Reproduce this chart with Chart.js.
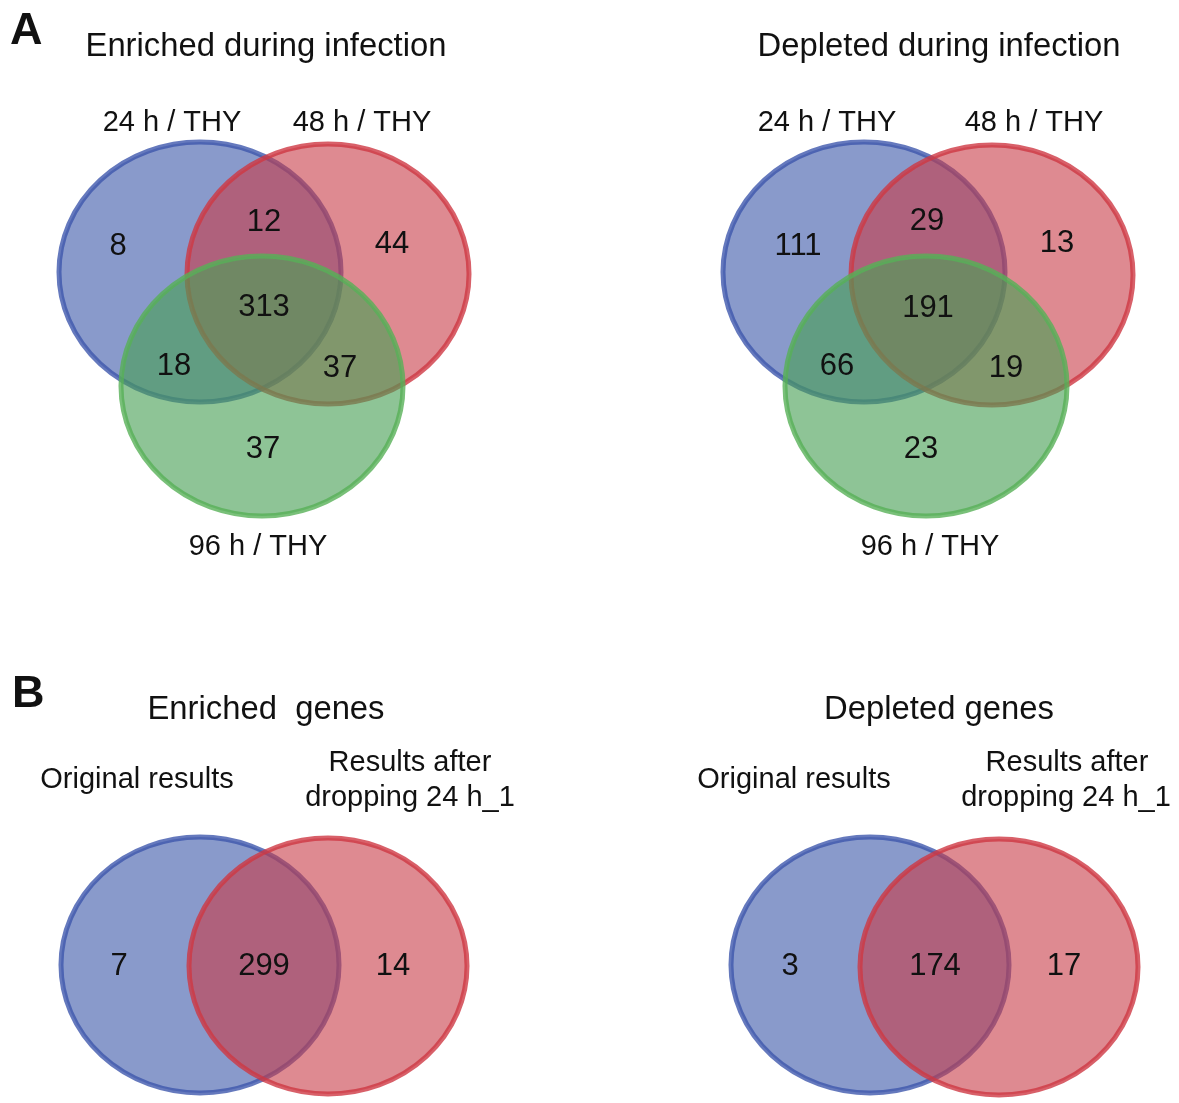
<!DOCTYPE html>
<html>
<head>
<meta charset="utf-8">
<title>Venn diagrams</title>
<script src="https://cdn.jsdelivr.net/npm/chart.js@4.4.0/dist/chart.umd.min.js"></script>
<style>
  html, body { margin: 0; padding: 0; background: #fff; }
  #wrap { width: 1179px; height: 1103px; }
</style>
</head>
<body>
<div id="wrap"><canvas id="venn" width="1179" height="1103"></canvas></div>
<script>
// --- Datos ---
const panelLetters = ['A', 'B'];
const panelTitles = ['Enriched during infection', 'Depleted during infection', 'Enriched  genes', 'Depleted genes'];
const timeSets = ['24 h / THY', '48 h / THY', '96 h / THY'];
const compareSets = ['Original results', 'Results after', 'dropping 24 h_1'];
// regiones: solo 24h, 24h∩48h, solo 48h, las tres, 24h∩96h, 48h∩96h, solo 96h
const enrichedCounts = [8, 12, 44, 313, 18, 37, 37];
const depletedCounts = [111, 29, 13, 191, 66, 19, 23];
// regiones: solo original, ambas, solo tras quitar 24 h_1
const enrichedGenes = [7, 299, 14];
const depletedGenes = [3, 174, 17];

// --- Disposición (unidades de los ejes: 0..1179 x 0..1103) ---
const W = 1179, H = 1103;
const FONT = "'Liberation Sans', Arial, Helvetica, sans-serif";

const vennPanels = [
    { counts: enrichedCounts, rx: 141, ry: 130,
      circles: [[200, 272], [328, 274], [262, 386]],
      spots: [[118, 244], [264, 220], [392, 242], [264, 305], [174, 364], [340, 366], [263, 447]] },
    { counts: depletedCounts, rx: 141, ry: 130,
      circles: [[864, 272], [992, 275], [926, 386]],
      spots: [[798, 244], [927, 219], [1057, 241], [928, 306], [837, 364], [1006, 366], [921, 447]] },
    { counts: enrichedGenes, rx: 139, ry: 128,
      circles: [[200, 965], [328, 966]],
      spots: [[119, 964], [264, 964], [393, 964]] },
    { counts: depletedGenes, rx: 139, ry: 128,
      circles: [[870, 965], [999, 967]],
      spots: [[790, 964], [935, 964], [1064, 964]] }
];

// [texto, x, línea base, tamaño, negrita, alineación]
const textItems = [
    [panelLetters[0], 10, 44, 45, true, 'left'],
    [panelLetters[1], 12, 707, 45, true, 'left'],
    [panelTitles[0], 266, 56, 32.8, false, 'center'],
    [panelTitles[1], 939, 56, 32.8, false, 'center'],
    [panelTitles[2], 266, 719, 32.8, false, 'center'],
    [panelTitles[3], 939, 719, 32.8, false, 'center'],
    [timeSets[0], 172, 131, 29, false, 'center'],
    [timeSets[1], 362, 131, 29, false, 'center'],
    [timeSets[2], 258, 555, 29, false, 'center'],
    [timeSets[0], 827, 131, 29, false, 'center'],
    [timeSets[1], 1034, 131, 29, false, 'center'],
    [timeSets[2], 930, 555, 29, false, 'center'],
    [compareSets[0], 137, 788, 29, false, 'center'],
    [compareSets[1], 410, 771, 29, false, 'center'],
    [compareSets[2], 410, 806, 29, false, 'center'],
    [compareSets[0], 794, 788, 29, false, 'center'],
    [compareSets[1], 1067, 771, 29, false, 'center'],
    [compareSets[2], 1066, 806, 29, false, 'center']
];

const setColors = [
    { fill: 'rgba(58, 86, 168, 0.6)', stroke: 'rgba(62, 88, 172, 0.8)' },
    { fill: 'rgba(200, 60, 72, 0.6)', stroke: 'rgba(206, 56, 68, 0.8)' },
    { fill: 'rgba(72, 160, 86, 0.62)', stroke: 'rgba(88, 176, 88, 0.8)' }
];

/**
 * Plugin: dibuja elipses, conteos y textos usando las escalas del gráfico
 */
const vennPlugin = {
    id: 'venn',
    beforeDatasetsDraw(chart) {
        const { ctx, scales: { x, y } } = chart;
        ctx.save();
        vennPanels.forEach(panel => {
            panel.circles.forEach(([cx, cy], i) => {
                const px = x.getPixelForValue(cx);
                const py = y.getPixelForValue(cy);
                const rx = Math.abs(x.getPixelForValue(cx + panel.rx) - px);
                const ry = Math.abs(y.getPixelForValue(cy + panel.ry) - py);
                ctx.beginPath();
                ctx.ellipse(px, py, rx, ry, 0, 0, Math.PI * 2);
                ctx.fillStyle = setColors[i].fill;
                ctx.fill();
                ctx.lineWidth = 5;
                ctx.strokeStyle = setColors[i].stroke;
                ctx.stroke();
            });
        });
        ctx.restore();
    },
    afterDatasetsDraw(chart) {
        const { ctx, scales: { x, y } } = chart;
        ctx.save();
        ctx.fillStyle = '#111';

        // Conteos de cada región
        chart.data.datasets.forEach((ds, d) => {
            const meta = chart.getDatasetMeta(d);
            ctx.font = `31px ${FONT}`;
            ctx.textAlign = 'center';
            ctx.textBaseline = 'alphabetic';
            meta.data.forEach((pt, i) => {
                ctx.fillText(String(ds.data[i].v), pt.x, pt.y + 31 * 0.358);
            });
        });

        // Títulos y nombres de conjuntos
        textItems.forEach(([txt, tx, ty, size, bold, align]) => {
            ctx.font = `${bold ? 'bold ' : ''}${size}px ${FONT}`;
            ctx.textAlign = align;
            ctx.textBaseline = 'alphabetic';
            ctx.fillText(txt, x.getPixelForValue(tx), y.getPixelForValue(ty));
        });
        ctx.restore();
    }
};

const datasets = vennPanels.map((panel, p) => ({
    label: panelTitles[p],
    data: panel.counts.map((v, i) => ({ x: panel.spots[i][0], y: panel.spots[i][1], v })),
    pointRadius: 0,
    pointHoverRadius: 0
}));

new Chart(document.getElementById('venn'), {
    type: 'scatter',
    data: { datasets },
    options: {
        responsive: false,
        animation: false,
        layout: { padding: 0 },
        plugins: {
            legend: { display: false },
            tooltip: { enabled: false }
        },
        scales: {
            x: { type: 'linear', min: 0, max: W, display: false },
            y: { type: 'linear', min: 0, max: H, reverse: true, display: false }
        }
    },
    plugins: [vennPlugin]
});
</script>
</body>
</html>
